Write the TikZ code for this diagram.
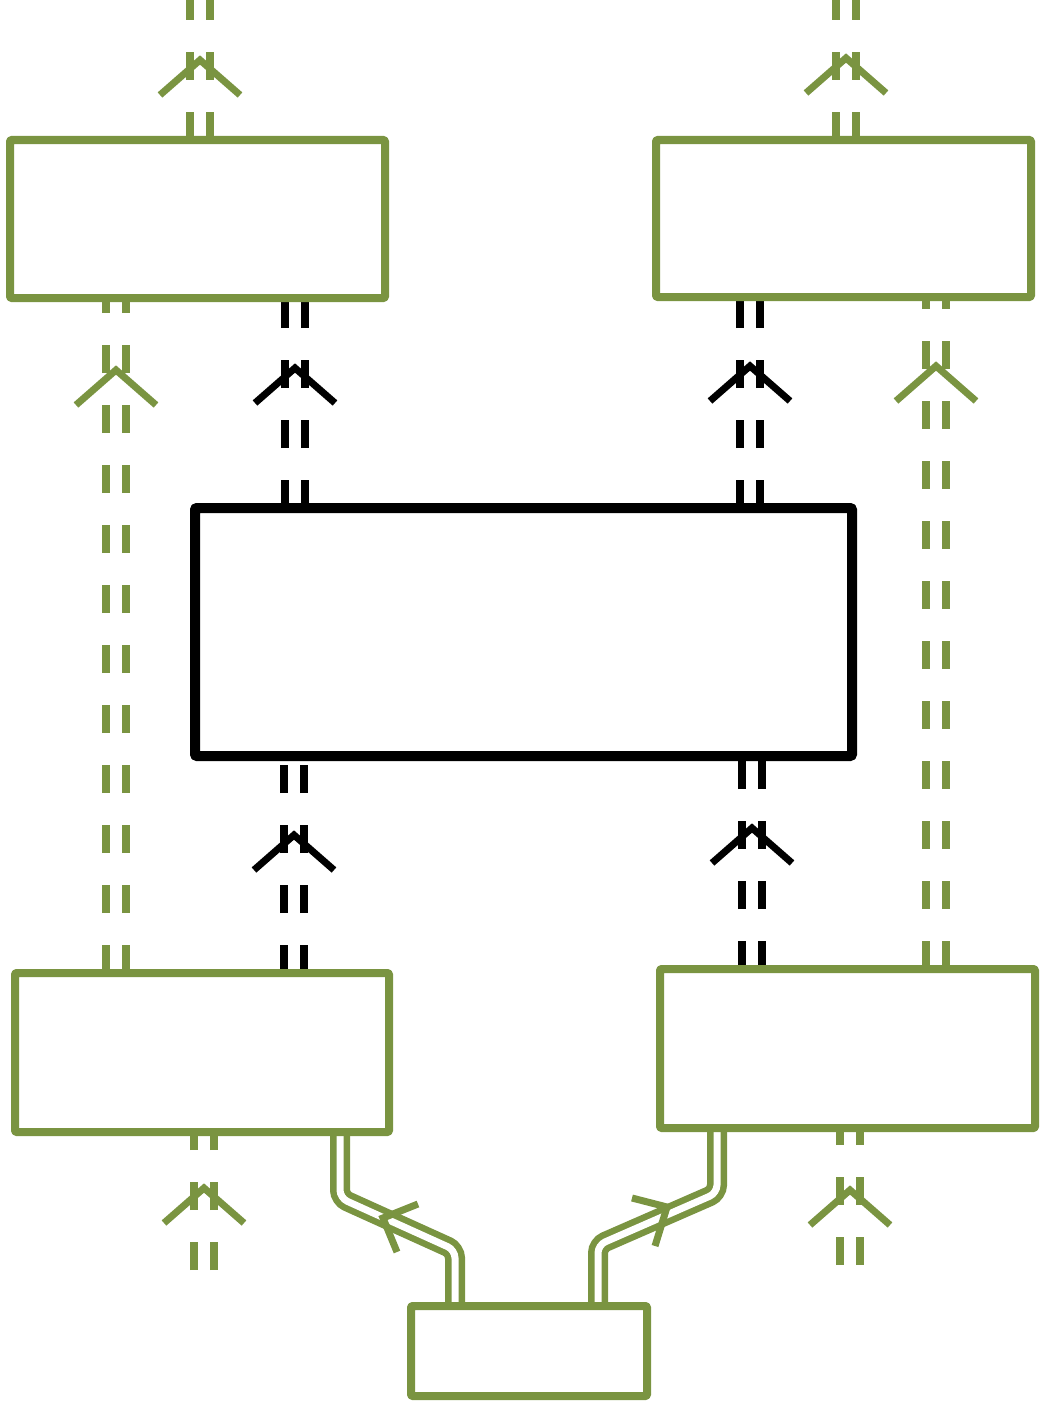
\documentclass[tikz,border=0pt]{standalone}
\usetikzlibrary{calc}
\definecolor{gr}{HTML}{7A9441}
\tikzset{
 gbox/.style={draw=gr,line width=8pt,line join=round,rounded corners=1pt,fill=white},
 kbox/.style={draw=black,line width=10pt,line join=round,rounded corners=1pt,fill=white},
 dl/.style={line width=8pt,dash pattern=on 28pt off 32pt},
 chev/.style={line width=7pt,line join=miter},
 sl/.style={draw=gr,line width=20pt,rounded corners=8pt,postaction={draw=white,line width=7pt,rounded corners=8pt}}
}
\newcommand\dbl[5]{%
 \draw[#1,dl] (#2-10,#3)--(#2-10,#4);
 \draw[#1,dl] (#2+10,#3)--(#2+10,#4);
 \draw[#1,chev] (#2-40,#5+35)--(#2,#5)--(#2+40,#5+35);}
\begin{document}
\begin{tikzpicture}[x=1pt,y=-1pt]
\useasboundingbox (0,0) rectangle (1046,1410);
% bent connectors
\draw[sl] (455,1310)--(455,1250)--(340,1198)--(340,1130);
\draw[sl] (598,1310)--(598,1245)--(717,1193)--(717,1130);
\draw[gr,chev] (418,1204)--(383,1218)--(397,1252);
\draw[gr,chev] (632,1198)--(667,1207)--(655,1246);
% dashed double connectors
\dbl{gr}{200}{140}{0}{60}
\dbl{gr}{846}{140}{0}{58}
\dbl{gr}{116}{973}{298}{370}
\dbl{gr}{936}{969}{297}{366}
\dbl{black}{295}{508}{298}{368}
\dbl{black}{750}{508}{298}{366}
\dbl{black}{294}{973}{756}{835}
\dbl{black}{752}{969}{756}{828}
\dbl{gr}{204}{1270}{1132}{1188}
\dbl{gr}{850}{1265}{1128}{1190}
% boxes
\node[gbox,minimum width=375pt,minimum height=158pt] (tl) at (197.5,219) {};
\node[gbox,minimum width=375pt,minimum height=157pt] (tr) at (843.5,218.5) {};
\node[kbox,minimum width=657pt,minimum height=248pt] (c) at (523.5,632) {};
\node[gbox,minimum width=374pt,minimum height=159pt] (bl) at (202,1052.5) {};
\node[gbox,minimum width=375pt,minimum height=159pt] (br) at (847.5,1048.5) {};
\node[gbox,minimum width=236pt,minimum height=90pt] (s) at (529,1351) {};
\end{tikzpicture}
\end{document}
